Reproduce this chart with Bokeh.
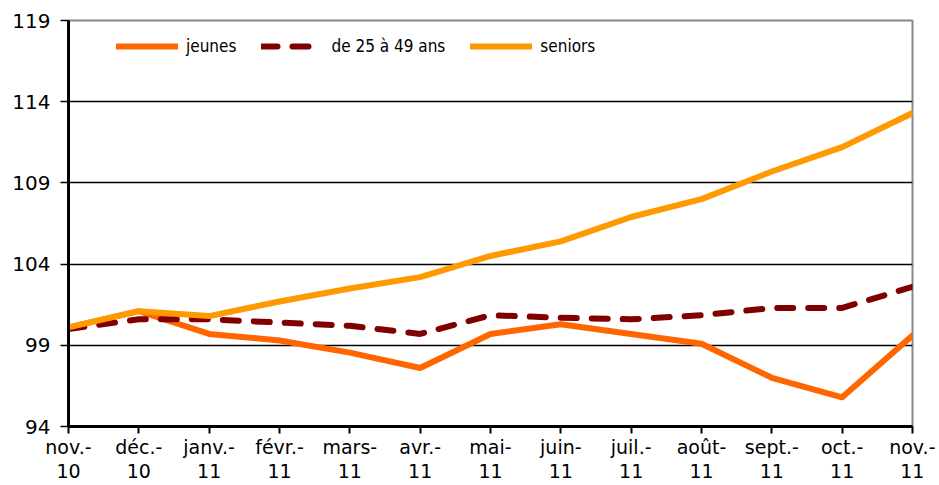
from bokeh.plotting import figure
from bokeh.models import Range1d, FixedTicker, Legend, LegendItem, ColumnDataSource
from bokeh.embed import file_html
from bokeh.resources import INLINE

months = ["nov.-\n10", "déc.-\n10", "janv.-\n11", "févr.-\n11", "mars-\n11", "avr.-\n11",
          "mai-\n11", "juin-\n11", "juil.-\n11", "août-\n11", "sept.-\n11", "oct.-\n11", "nov.-\n11"]
jeunes = [100.1, 101.1, 99.7, 99.3, 98.55, 97.6, 99.7, 100.3, 99.7, 99.1, 97.0, 95.8, 99.6]
age_25_49 = [100.0, 100.6, 100.6, 100.4, 100.2, 99.7, 100.85, 100.7, 100.6, 100.85, 101.3, 101.3, 102.6]
seniors = [100.1, 101.1, 100.8, 101.7, 102.5, 103.2, 104.5, 105.4, 106.9, 108.0, 109.7, 111.2, 113.3]
y_ticks = [94, 99, 104, 109, 114, 119]

x = list(range(len(months)))
src = ColumnDataSource(dict(x=x, jeunes=jeunes, mid=age_25_49, seniors=seniors))

FONT = "DejaVu Sans"

p = figure(width=935, height=485, output_backend="svg", toolbar_location=None,
           x_range=Range1d(0, len(months) - 1), y_range=Range1d(94, 119),
           min_border_left=68, min_border_right=23, min_border_top=20, min_border_bottom=59)

p.outline_line_color = "#888888"
p.outline_line_width = 2

p.xgrid.grid_line_color = None
p.ygrid.ticker = FixedTicker(ticks=y_ticks[1:-1])
p.ygrid.grid_line_color = "black"
p.ygrid.grid_line_width = 1.5

p.yaxis.ticker = FixedTicker(ticks=y_ticks)
p.yaxis.axis_line_color = "black"
p.yaxis.axis_line_width = 3
p.yaxis.major_tick_line_color = "black"
p.yaxis.major_tick_line_width = 1.5
p.yaxis.major_tick_out = 8
p.yaxis.major_tick_in = 0
p.yaxis.minor_tick_line_color = None
p.yaxis.major_label_text_font = FONT
p.yaxis.major_label_text_font_size = "20px"
p.yaxis.major_label_text_color = "black"
p.yaxis.major_label_standoff = 10

p.xaxis.ticker = FixedTicker(ticks=x)
p.xaxis.major_label_overrides = {i: m for i, m in enumerate(months)}
p.xaxis.axis_line_color = "black"
p.xaxis.axis_line_width = 3
p.xaxis.major_tick_line_color = "black"
p.xaxis.major_tick_line_width = 2
p.xaxis.major_tick_out = 7
p.xaxis.major_tick_in = 0
p.xaxis.minor_tick_line_color = None
p.xaxis.major_label_text_font = FONT
p.xaxis.major_label_text_font_size = "19px"
p.xaxis.major_label_text_color = "black"
p.xaxis.major_label_standoff = 2
p.xaxis.major_label_text_line_height = 1.1

r1 = p.line("x", "jeunes", source=src, line_color="#FF6600", line_width=6, line_join="round", line_cap="round")
r2 = p.line("x", "mid", source=src, line_color="#800000", line_width=6, line_dash="16 15",
            line_join="round", line_cap="round")
r3 = p.line("x", "seniors", source=src, line_color="#FF9900", line_width=6, line_join="round", line_cap="round")

legend = Legend(items=[LegendItem(label="jeunes", renderers=[r1]),
                       LegendItem(label="de 25 à 49 ans", renderers=[r2]),
                       LegendItem(label="seniors", renderers=[r3])],
                orientation="horizontal", location=(48, 370),
                border_line_color=None, background_fill_alpha=0,
                glyph_width=62, glyph_height=20, label_standoff=8, spacing=25,
                margin=0, padding=0,
                label_text_font="DejaVu Sans Condensed", label_text_font_size="17px",
                label_text_color="black")
p.add_layout(legend)

open("out.html", "w").write(file_html(p, INLINE))
